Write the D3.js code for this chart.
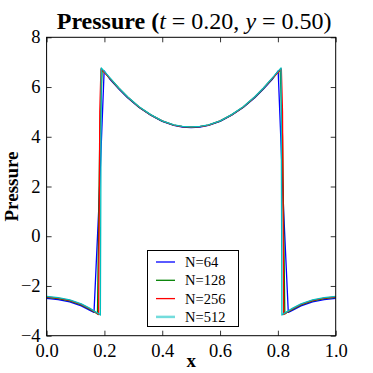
<!DOCTYPE html>
<html><head><meta charset="utf-8">
<script src="https://cdn.jsdelivr.net/npm/d3@7"></script>
<style>body{margin:0;background:#fff}svg{display:block}text{font-family:"Liberation Serif","DejaVu Serif",serif;fill:#000}</style>
</head><body><svg id="c" width="373" height="373"></svg>
<script>
const seriesNames = ["N=64","N=128","N=256","N=512"];
const seriesColors = ["#0000ff","#008000","#ff0000","#00bfbf"];
const xTicks = [0.0,0.2,0.4,0.6,0.8,1.0];
const yTicks = [-4,-2,0,2,4,6,8];

const x64 = [0,0.04,0.08,0.12,0.15,0.164,0.18,0.199,0.22,0.25,0.28,0.32,0.36,0.40,0.44,0.47,0.50,0.53,0.56,0.60,0.64,0.68,0.72,0.75,0.78,0.801,0.82,0.836,0.85,0.88,0.92,0.96,1.0];
const p64 = [-2.50,-2.55,-2.64,-2.80,-2.98,-3.06,1.0,6.65,6.30,5.92,5.57,5.18,4.87,4.62,4.46,4.39,4.37,4.39,4.46,4.62,4.87,5.18,5.57,5.92,6.30,6.65,1.0,-3.06,-2.98,-2.80,-2.64,-2.55,-2.50];

const x128 = [0,0.04,0.08,0.12,0.15,0.165,0.176,0.184,0.192,0.22,0.25,0.28,0.32,0.36,0.40,0.44,0.47,0.50,0.53,0.56,0.60,0.64,0.68,0.72,0.75,0.78,0.808,0.816,0.824,0.835,0.85,0.88,0.92,0.96,1.0];
const p128 = [-2.46,-2.51,-2.60,-2.76,-2.94,-3.04,-3.13,4.0,6.70,6.33,5.94,5.59,5.19,4.88,4.63,4.47,4.41,4.39,4.41,4.47,4.63,4.88,5.19,5.59,5.94,6.33,6.70,4.0,-3.13,-3.04,-2.94,-2.76,-2.60,-2.51,-2.46];

const x256 = [0,0.04,0.08,0.12,0.15,0.165,0.180,0.184,0.188,0.22,0.25,0.28,0.32,0.36,0.40,0.44,0.47,0.50,0.53,0.56,0.60,0.64,0.68,0.72,0.75,0.78,0.812,0.816,0.820,0.835,0.85,0.88,0.92,0.96,1.0];
const p256 = [-2.44,-2.49,-2.58,-2.74,-2.92,-3.03,-3.15,5.0,6.73,6.34,5.95,5.60,5.20,4.88,4.64,4.47,4.41,4.40,4.41,4.47,4.64,4.88,5.20,5.60,5.95,6.34,6.73,5.0,-3.15,-3.03,-2.92,-2.74,-2.58,-2.49,-2.44];

const x512 = [0,0.04,0.08,0.12,0.15,0.165,0.178,0.186,0.189,0.22,0.25,0.28,0.32,0.36,0.40,0.44,0.47,0.50,0.53,0.56,0.60,0.64,0.68,0.72,0.75,0.78,0.811,0.814,0.822,0.835,0.85,0.88,0.92,0.96,1.0];
const p512 = [-2.42,-2.47,-2.56,-2.72,-2.90,-3.01,-3.10,-3.17,6.77,6.36,5.96,5.61,5.21,4.89,4.64,4.48,4.42,4.40,4.42,4.48,4.64,4.89,5.21,5.61,5.96,6.36,6.77,-3.17,-3.10,-3.01,-2.90,-2.72,-2.56,-2.47,-2.42];

const seriesX = [x64,x128,x256,x512];
const seriesP = [p64,p128,p256,p512];

const W=373,H=373, L=46.6, R=335.7, T=37.3, B=335.7;
const svg = d3.select("#c");
svg.append("rect").attr("width",W).attr("height",H).attr("fill","#fff");
const xs = d3.scaleLinear().domain([0,1]).range([L,R]);
const ys = d3.scaleLinear().domain([-4,8]).range([B,T]);

svg.append("clipPath").attr("id","cp").append("rect").attr("x",L).attr("y",T).attr("width",R-L).attr("height",B-T);
const g = svg.append("g").attr("clip-path","url(#cp)");
const line = d3.line().x(d=>xs(d[0])).y(d=>ys(d[1]));
seriesX.forEach((xa,i)=>{
  const pts = xa.map((v,j)=>[v,seriesP[i][j]]);
  g.append("path").attr("d",line(pts)).attr("fill","none").attr("stroke",seriesColors[i]).attr("stroke-width",1.3).attr("stroke-linejoin","round");
});

const tl=5;
const fmt = d=> d.toFixed(1);
const ax = svg.append("g").attr("transform",`translate(0,${B})`).call(d3.axisBottom(xs).tickValues(xTicks).tickFormat(fmt).tickSizeInner(-tl).tickSizeOuter(0).tickPadding(8));
const axT = svg.append("g").attr("transform",`translate(0,${T})`).call(d3.axisTop(xs).tickValues(xTicks).tickFormat("").tickSizeInner(-tl).tickSizeOuter(0));
const ay = svg.append("g").attr("transform",`translate(${L},0)`).call(d3.axisLeft(ys).tickValues(yTicks).tickFormat(d=>d<0?"\u2212"+Math.abs(d):String(d)).tickSizeInner(-tl).tickSizeOuter(0).tickPadding(6));
const ayR = svg.append("g").attr("transform",`translate(${R},0)`).call(d3.axisRight(ys).tickValues(yTicks).tickFormat("").tickSizeInner(-tl).tickSizeOuter(0));
[ax,axT,ay,ayR].forEach(a=>{a.select(".domain").remove(); a.selectAll("line").attr("stroke","#000").attr("stroke-width",0.8); a.selectAll("text").attr("font-family","Liberation Serif, serif").attr("font-size",18.5).attr("fill","#222");});
ax.selectAll("text").attr("dy","0.71em");
ay.selectAll("text").attr("dy","0.3em");
svg.append("rect").attr("x",L).attr("y",T).attr("width",R-L).attr("height",B-T).attr("fill","none").attr("stroke","#000").attr("stroke-width",1);

svg.append("text").attr("x",(L+R)/2).attr("y",367).attr("text-anchor","middle").attr("font-size",19).attr("font-weight","bold").text("x");
svg.append("text").attr("transform",`translate(18,${(T+B)/2}) rotate(-90)`).attr("text-anchor","middle").attr("font-size",19).attr("font-weight","bold").text("Pressure");
const title = svg.append("text").attr("x",(L+R)/2+3).attr("y",29).attr("text-anchor","middle").attr("font-size",24);
title.append("tspan").attr("font-weight","bold").text("Pressure (");
title.append("tspan").attr("font-style","italic").text("t");
title.append("tspan").text(" = 0.20, ");
title.append("tspan").attr("font-style","italic").text("y");
title.append("tspan").text(" = 0.50)");

const lg = svg.append("g");
lg.append("rect").attr("x",147.5).attr("y",250.5).attr("width",91).attr("height",76).attr("fill","#fff").attr("stroke","#000").attr("stroke-width",1);
seriesNames.forEach((n,i)=>{
  const yy = 262 + i*18.3;
  lg.append("line").attr("x1",156).attr("x2",175).attr("y1",yy).attr("y2",yy).attr("stroke",seriesColors[i]).attr("stroke-width",i===3?2.5:1.3).attr("stroke-opacity",i===3?0.55:1);
  lg.append("text").attr("x",185).attr("y",yy).attr("dy","0.35em").attr("font-size",14.5).text(n);
});
</script></body></html>
